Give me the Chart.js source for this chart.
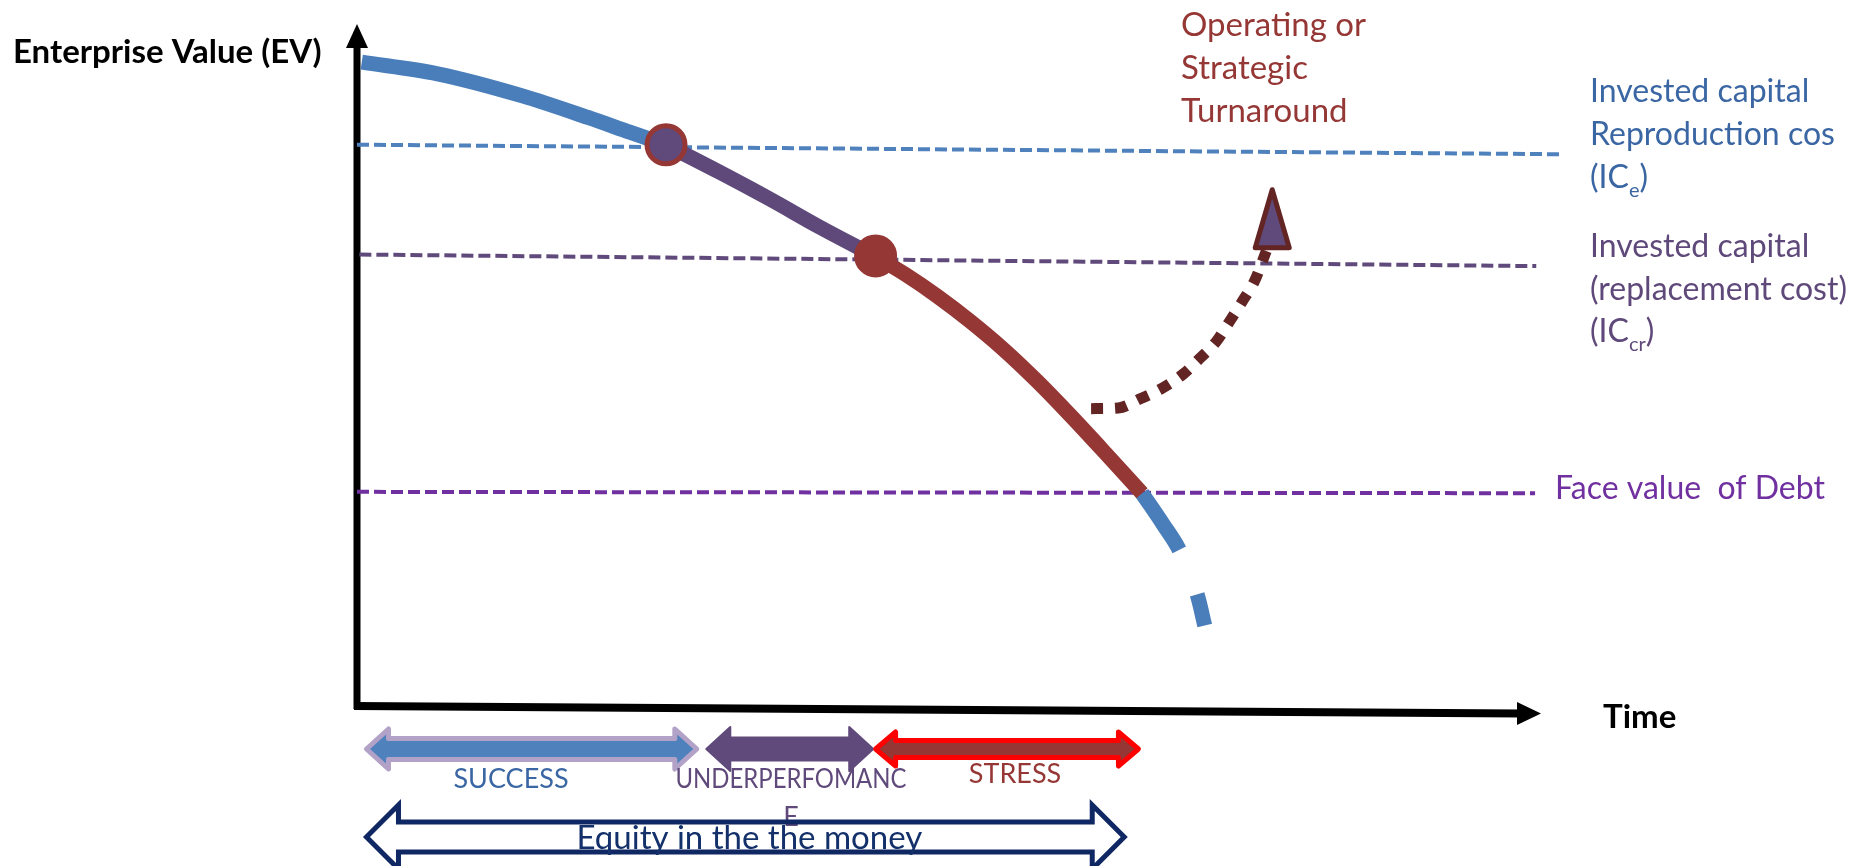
<!DOCTYPE html>
<html>
<head>
<meta charset="utf-8">
<title>Enterprise Value over Time</title>
<script src="https://cdn.jsdelivr.net/npm/chart.js@4.4.1/dist/chart.umd.min.js"></script>
<style>
    html, body { margin: 0; padding: 0; background: #ffffff; }
    #chartBox { width: 1868px; height: 866px; }
</style>
</head>
<body>
<div id="chartBox"><canvas id="myChart" width="1868" height="866"></canvas></div>
<script>
// EV curve split in phases (x = time, y = enterprise value, both 0..10)
let successX = [0.04, 0.68, 1.39, 1.95, 2.31, 2.61]
let successY = [9.44, 9.27, 8.95, 8.63, 8.41, 8.23]
let underX = [2.61, 3.07, 3.49, 3.91, 4.38]
let underY = [8.23, 7.82, 7.43, 7.02, 6.59]
let stressX = [4.38, 4.63, 4.90, 5.18, 5.46, 5.74, 6.02, 6.32, 6.63]
let stressY = [6.59, 6.33, 6.01, 5.64, 5.23, 4.77, 4.27, 3.71, 3.12]
// under the debt line
let distressX = [6.63, 6.81, 6.95, 7.10, 7.16]
let distressY = [3.12, 2.66, 2.27, 1.61, 1.18]

// turnaround path + arrow head
let turnX = [6.20, 6.43, 6.61, 6.80, 6.98, 7.12, 7.26, 7.37, 7.48, 7.58, 7.68]
let turnY = [4.36, 4.37, 4.50, 4.66, 4.87, 5.10, 5.35, 5.64, 5.94, 6.23, 6.67]
let turnTipX = [7.73]
let turnTipY = [7.57]
let turnBaseY = [6.72]

// reference levels
let icEX = [0, 10.19]
let icEY = [8.23, 8.09]
let icCrX = [0.02, 9.96]
let icCrY = [6.62, 6.45]
let debtX = [0, 9.95]
let debtY = [3.14, 3.12]

// phase change markers
let markerX = [2.61, 4.38]
let markerY = [8.23, 6.60]

// phases on the time axis
let phaseNames = [["SUCCESS"], ["UNDERPERFOMANC", "E"], ["STRESS"]]
let phaseStart = [0.08, 2.95, 4.38]
let phaseEnd = [2.87, 4.36, 6.60]
let equityName = "Equity in the the money"
let equityStart = [0.08]
let equityEnd = [6.48]

function pts(xs, ys) {
    return xs.map((x, i) => ({x: x, y: ys[i]}))
}

function doubleArrow(ctx, x1, x2, yc, body, head, len) {
    ctx.beginPath()
    ctx.moveTo(x1, yc)
    ctx.lineTo(x1 + len, yc - head)
    ctx.lineTo(x1 + len, yc - body)
    ctx.lineTo(x2 - len, yc - body)
    ctx.lineTo(x2 - len, yc - head)
    ctx.lineTo(x2, yc)
    ctx.lineTo(x2 - len, yc + head)
    ctx.lineTo(x2 - len, yc + body)
    ctx.lineTo(x1 + len, yc + body)
    ctx.lineTo(x1 + len, yc + head)
    ctx.closePath()
}

// text with a subscript part, e.g. (IC_e)
function subText(ctx, before, sub, after, x, y, size) {
    ctx.font = size + "px Lato"
    ctx.fillText(before, x, y)
    x += ctx.measureText(before).width
    ctx.font = Math.round(size * 0.64) + "px Lato"
    ctx.fillText(sub, x, y + 9)
    x += ctx.measureText(sub).width
    ctx.font = size + "px Lato"
    ctx.fillText(after, x, y)
}

let phaseStyle = [
    {fill: "#4f81bd", stroke: "#b3a2c7", lw: 5, body: 10.5, head: 20, len: 22, yc: 749, text: "#3a66a3", tx: 511, ty: 788, maxW: 200},
    {fill: "#604a7b", stroke: "#604a7b", lw: 2, body: 11.5, head: 22, len: 24, yc: 749, text: "#604a7b", tx: 791, ty: 788, maxW: 231},
    {fill: "#953735", stroke: "#ff0000", lw: 5, body: 8.5, head: 17, len: 20, yc: 749, text: "#953735", tx: 1015, ty: 783, maxW: 200}
]

const diagram = {
    id: "diagram",
    beforeDatasetsDraw(chart) {
        let ctx = chart.ctx, x = chart.scales.x, y = chart.scales.y
        let ox = x.getPixelForValue(0), oy = y.getPixelForValue(0)
        let topY = y.getPixelForValue(10)
        let endX = x.getPixelForValue(10), endY = y.getPixelForValue(-0.11)
        ctx.save()
        ctx.strokeStyle = "#000"
        ctx.fillStyle = "#000"
        ctx.lineWidth = 7
        // value axis
        ctx.beginPath()
        ctx.moveTo(ox, oy + 3)
        ctx.lineTo(ox, topY + 20)
        ctx.stroke()
        ctx.beginPath()
        ctx.moveTo(ox, topY)
        ctx.lineTo(ox + 11, topY + 24)
        ctx.lineTo(ox - 11, topY + 24)
        ctx.closePath()
        ctx.fill()
        // time axis
        ctx.lineWidth = 8
        ctx.beginPath()
        ctx.moveTo(ox - 3, oy)
        ctx.lineTo(endX - 20, endY)
        ctx.stroke()
        ctx.beginPath()
        ctx.moveTo(endX, endY)
        ctx.lineTo(endX - 24, endY - 11.5)
        ctx.lineTo(endX - 24, endY + 11.5)
        ctx.closePath()
        ctx.fill()

        ctx.font = "bold 33px Lato"
        ctx.textAlign = "left"
        ctx.fillText("Enterprise Value (EV)", 13, 63)
        ctx.fillText("Time", 1603, 728)
        ctx.restore()
    },
    afterDatasetsDraw(chart) {
        let ctx = chart.ctx, x = chart.scales.x, y = chart.scales.y
        ctx.save()
        // turnaround arrow head
        let tx = x.getPixelForValue(turnTipX[0]), ty = y.getPixelForValue(turnTipY[0])
        let by = y.getPixelForValue(turnBaseY[0])
        ctx.beginPath()
        ctx.moveTo(tx, ty)
        ctx.lineTo(tx + 17, by)
        ctx.lineTo(tx - 17, by)
        ctx.closePath()
        ctx.fillStyle = "#604a7b"
        ctx.fill()
        ctx.lineWidth = 5
        ctx.lineJoin = "round"
        ctx.strokeStyle = "#632523"
        ctx.stroke()

        // labels on the right
        ctx.textAlign = "left"
        ctx.font = "33px Lato"
        ctx.fillStyle = "#953735"
        ctx.fillText("Operating or", 1181, 36)
        ctx.fillText("Strategic", 1181, 79)
        ctx.fillText("Turnaround", 1181, 122)

        ctx.font = "32px Lato"
        ctx.fillStyle = "#3a66a3"
        ctx.fillText("Invested capital", 1590, 102)
        ctx.fillText("Reproduction cos", 1590, 145)
        subText(ctx, "(IC", "e", ")", 1590, 188, 32)

        ctx.fillStyle = "#5f497a"
        ctx.fillText("Invested capital", 1590, 257)
        ctx.fillText("(replacement cost)", 1590, 300)
        subText(ctx, "(IC", "cr", ")", 1590, 342, 32)

        ctx.fillStyle = "#7030a0"
        ctx.font = "32px Lato"
        ctx.fillText("Face value  of Debt", 1555, 499)

        // phase arrows under the time axis
        for (let i = 0; i < phaseNames.length; i++) {
            let s = phaseStyle[i]
            let x1 = x.getPixelForValue(phaseStart[i]), x2 = x.getPixelForValue(phaseEnd[i])
            doubleArrow(ctx, x1, x2, s.yc, s.body, s.head, s.len)
            ctx.fillStyle = s.fill
            ctx.fill()
            ctx.lineWidth = s.lw
            ctx.strokeStyle = s.stroke
            ctx.lineJoin = "round"
            ctx.stroke()
            ctx.fillStyle = s.text
            ctx.font = "27px Lato"
            ctx.textAlign = "center"
            for (let j = 0; j < phaseNames[i].length; j++) {
                ctx.fillText(phaseNames[i][j], s.tx, s.ty + j * 38, s.maxW)
            }
        }

        // equity arrow (outline only)
        let e1 = x.getPixelForValue(equityStart[0]), e2 = x.getPixelForValue(equityEnd[0])
        doubleArrow(ctx, e1, e2, 837, 15, 32, 32)
        ctx.lineWidth = 5
        ctx.strokeStyle = "#0f2763"
        ctx.lineJoin = "miter"
        ctx.stroke()
        ctx.fillStyle = "#13306b"
        ctx.font = "33px Lato"
        ctx.textAlign = "center"
        ctx.fillText(equityName, (e1 + e2) / 2 + 4, 849)
        ctx.restore()
    }
}

let curve = {pointRadius: 0, borderWidth: 15, fill: false, cubicInterpolationMode: "monotone", borderCapStyle: "butt", borderJoinStyle: "round", clip: false}
let level = {pointRadius: 0, borderWidth: 4, fill: false, borderDash: [12, 5], borderCapStyle: "butt", clip: false, order: 5}

let chart = new Chart(document.getElementById("myChart").getContext("2d"), {
    type: "line",
    data: {
        datasets: [
            Object.assign({label: "ICe", data: pts(icEX, icEY), borderColor: "#4f81bd"}, level),
            Object.assign({label: "ICcr", data: pts(icCrX, icCrY), borderColor: "#604a7b"}, level),
            Object.assign({label: "Debt", data: pts(debtX, debtY), borderColor: "#7030a0"}, level),
            Object.assign({label: "Success", data: pts(successX, successY), borderColor: "#4a7ebb", order: 2}, curve),
            Object.assign({label: "Underperformance", data: pts(underX, underY), borderColor: "#5f497a", order: 2}, curve),
            Object.assign({label: "Stress", data: pts(stressX, stressY), borderColor: "#953735", order: 2}, curve),
            Object.assign({label: "Distress", data: pts(distressX, distressY), borderColor: "#4a7ebb", borderDash: [68, 48], order: 2}, curve),
            Object.assign({}, curve, {label: "Turnaround", data: pts(turnX, turnY), borderColor: "#632523", borderWidth: 11, borderDash: [12, 12], order: 1}),
            {
                label: "Markers",
                data: pts(markerX, markerY),
                showLine: false,
                pointRadius: 19,
                pointBackgroundColor: ["#604a7b", "#953735"],
                pointBorderColor: "#953735",
                pointBorderWidth: 5,
                clip: false,
                order: 0
            }
        ]
    },
    options: {
        responsive: false,
        animation: false,
        devicePixelRatio: 1,
        layout: {padding: {left: 357, right: 327, top: 22, bottom: 160}},
        plugins: {legend: {display: false}, tooltip: {enabled: false}},
        scales: {
            x: {type: "linear", min: 0, max: 10, display: false},
            y: {type: "linear", min: 0, max: 10, display: false}
        }
    },
    plugins: [diagram]
});
</script>
</body>
</html>
